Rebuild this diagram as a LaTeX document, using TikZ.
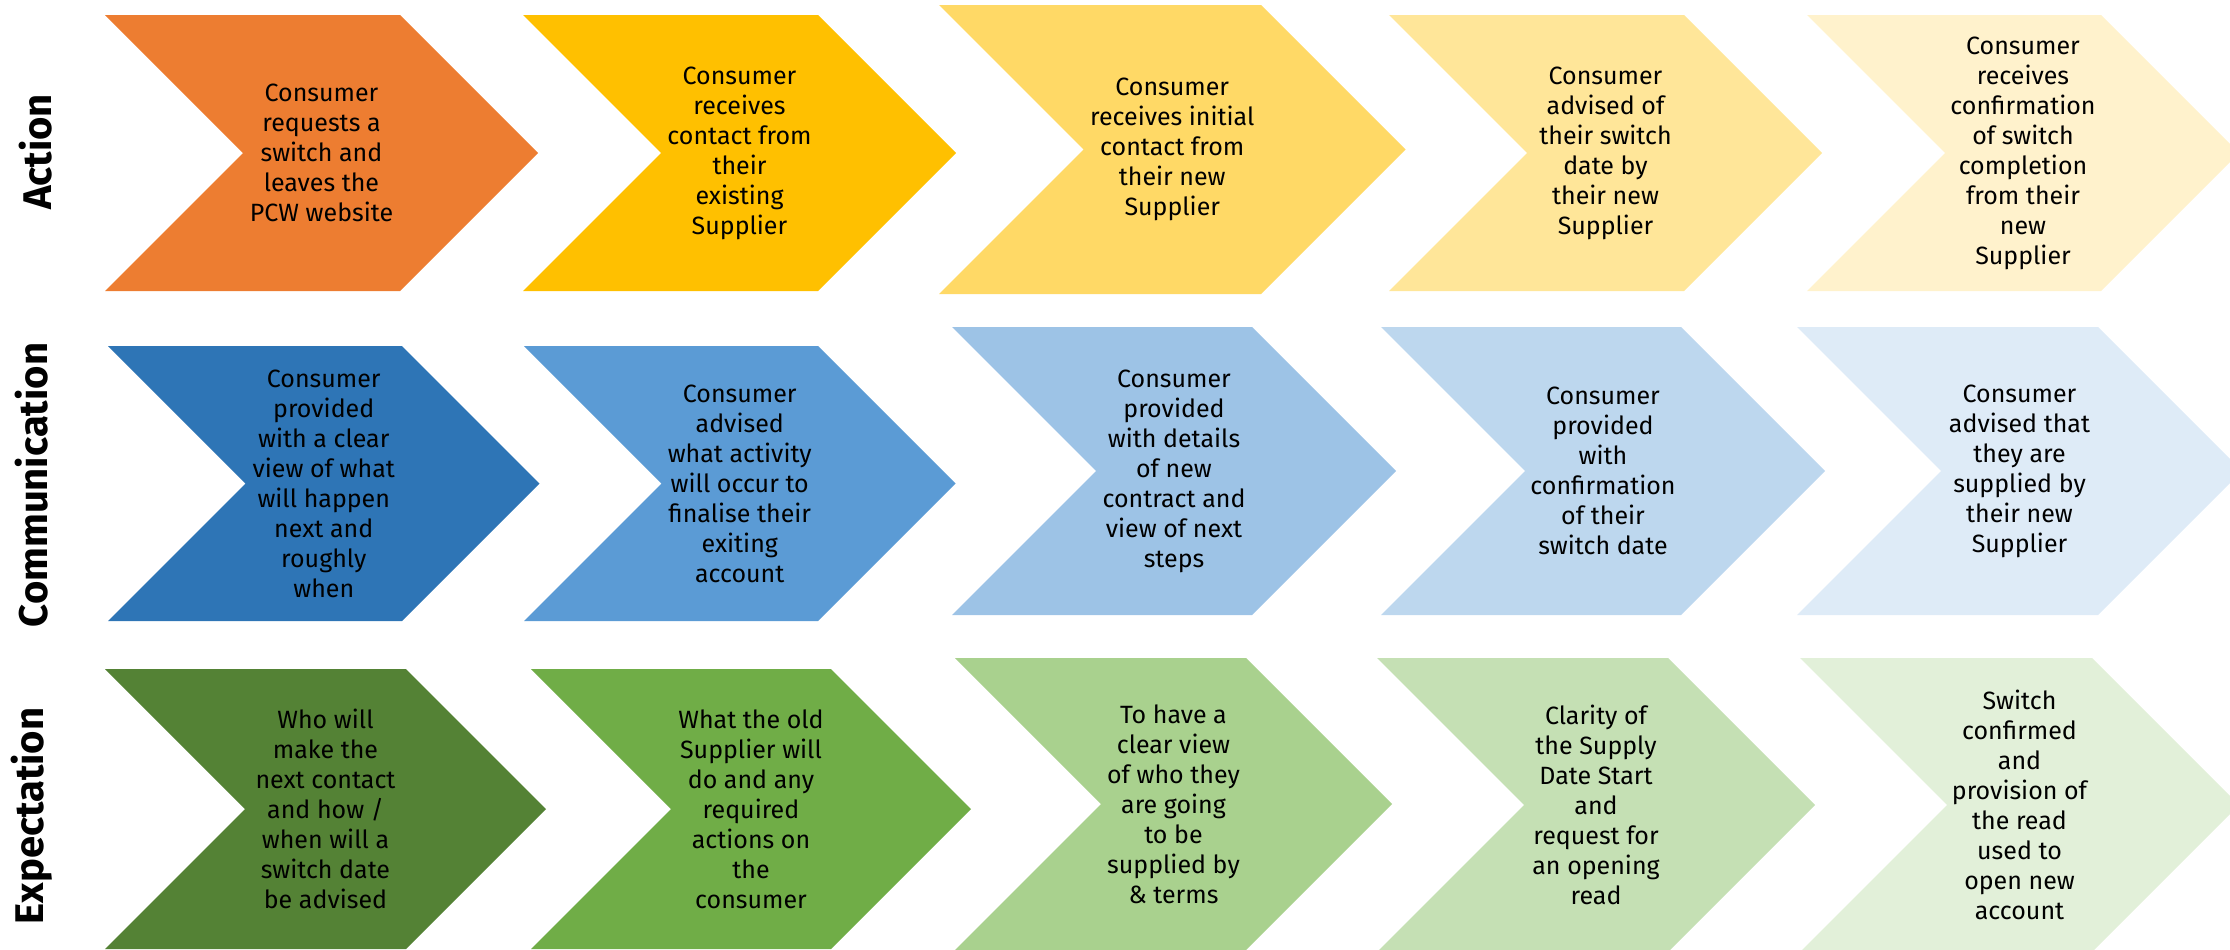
\documentclass[tikz,border=0pt]{standalone}
\usepackage{fontspec}
\setmainfont{Fira Sans}

% row colours, darkest first
\definecolor{actA}{HTML}{ED7D31}
\definecolor{actB}{HTML}{FFC000}
\definecolor{actC}{HTML}{FFD966}
\definecolor{actD}{HTML}{FFE699}
\definecolor{actE}{HTML}{FFF2CC}
\definecolor{comA}{HTML}{2E75B6}
\definecolor{comB}{HTML}{5B9BD5}
\definecolor{comC}{HTML}{9DC3E6}
\definecolor{comD}{HTML}{BDD7EE}
\definecolor{comE}{HTML}{DEEBF7}
\definecolor{expA}{HTML}{548235}
\definecolor{expB}{HTML}{70AD47}
\definecolor{expC}{HTML}{A9D18E}
\definecolor{expD}{HTML}{C5E0B4}
\definecolor{expE}{HTML}{E2F0D9}

\tikzset{
  stagetext/.style={align=center, inner sep=0pt, font=\fontsize{12.5}{15}\selectfont},
  rowlabel/.style={rotate=90, inner sep=0pt, font=\fontsize{20}{24}\selectfont\bfseries},
}

\begin{document}
\begin{tikzpicture}[x=0.5pt,y=-0.5pt]
\useasboundingbox (0,0) rectangle (2230,949);
% chevron: name, left, right, top, bottom, colour, text
\def\stage#1#2#3#4#5#6#7{%
  \pgfmathsetmacro\tipx{#3+(#5-#4)/2}
  \pgfmathsetmacro\notchx{#2+(#5-#4)/2}
  \pgfmathsetmacro\midy{(#4+#5)/2}
  \pgfmathsetmacro\cx{(#2+\tipx)/2}
  \fill[#6] (#2,#4) -- (#3,#4) -- (\tipx,\midy) -- (#3,#5) -- (#2,#5) -- (\notchx,\midy) -- cycle;
  \node[stagetext] (#1) at (\cx,\midy) {#7};
}

% row labels
\node[rowlabel] (action) at (36,152) {Action};
\node[rowlabel] (communication) at (32,485) {Communication};
\node[rowlabel] (expectation) at (32,816) {Expectation};

% action row
\stage{act1}{105}{400}{15}{291}{actA}{Consumer\\requests a\\switch and\\leaves the\\PCW website}
\stage{act2}{523}{818}{15}{291}{actB}{Consumer\\receives\\contact from\\their\\existing\\Supplier}
\stage{act3}{939}{1261}{5}{294}{actC}{Consumer\\receives initial\\contact from\\their new\\Supplier}
\stage{act4}{1389}{1684}{15}{291}{actD}{Consumer\\advised of\\their switch\\date by\\their new\\Supplier}
\stage{act5}{1807}{2101}{15}{291}{actE}{Consumer\\receives\\confirmation\\of switch\\completion\\from their\\new\\Supplier}

% communication row
\stage{com1}{108}{402}{346}{621}{comA}{Consumer\\provided\\with a clear\\view of what\\will happen\\next and\\roughly\\when}
\stage{com2}{524}{818}{346}{621}{comB}{Consumer\\advised\\what activity\\will occur to\\finalise their\\exiting\\account}
\stage{com3}{952}{1252}{327}{615}{comC}{Consumer\\provided\\with details\\of new\\contract and\\view of next\\steps}
\stage{com4}{1381}{1681}{327}{615}{comD}{Consumer\\provided\\with\\confirmation\\of their\\switch date}
\stage{com5}{1797}{2098}{327}{615}{comE}{Consumer\\advised that\\they are\\supplied by\\their new\\Supplier}

% expectation row
\stage{exp1}{105}{406}{669}{949}{expA}{Who will\\make the\\next contact\\and how /\\when will a\\switch date\\be advised}
\stage{exp2}{531}{831}{669}{949}{expB}{What the old\\Supplier will\\do and any\\required\\actions on\\the\\consumer}
\stage{exp3}{955}{1246}{658}{950}{expC}{To have a\\clear view\\of who they\\are going\\to be\\supplied by\\\& terms}
\stage{exp4}{1377}{1668}{658}{952}{expD}{Clarity of\\the Supply\\Date Start\\and\\request for\\an opening\\read}
\stage{exp5}{1800}{2092}{658}{952}{expE}{Switch\\confirmed\\and\\provision of\\the read\\used to\\open new\\account}
\end{tikzpicture}
\end{document}
